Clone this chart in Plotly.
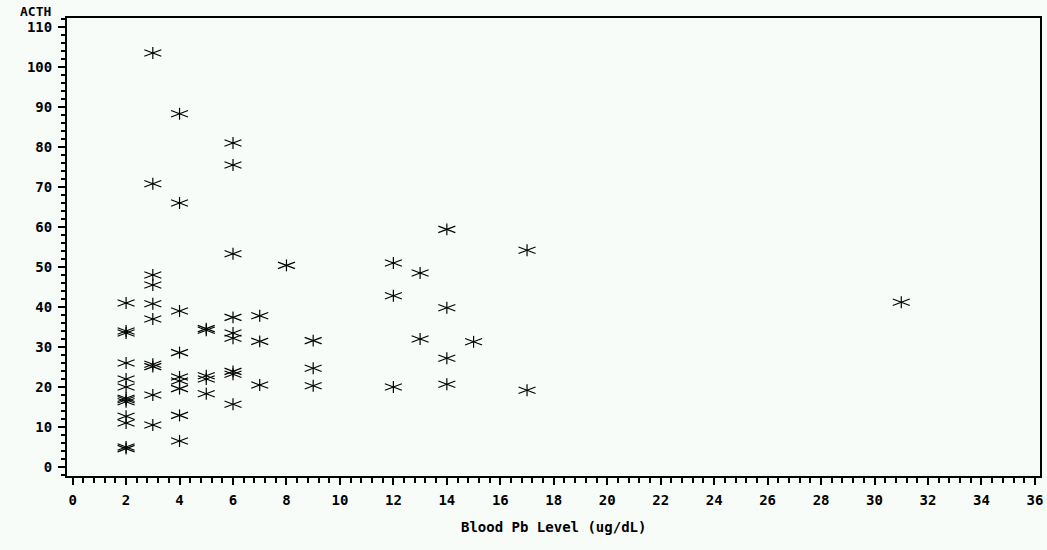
import plotly.graph_objects as go

# Blood Pb level (ug/dL) for each subject
pb = [2, 2, 2, 2, 2, 2, 2, 2, 2, 2, 2, 2, 2,
      3, 3, 3, 3, 3, 3, 3, 3, 3, 3,
      4, 4, 4, 4, 4, 4, 4, 4, 4,
      5, 5, 5, 5, 5,
      6, 6, 6, 6, 6, 6, 6, 6, 6,
      7, 7, 7,
      8,
      9, 9, 9,
      12, 12, 12,
      13, 13,
      14, 14, 14, 14,
      15,
      17, 17,
      31]
# ACTH for each subject
acth = [41, 34, 33.5, 26, 22, 20, 17.2, 16.8, 16.3, 12.7, 11, 5, 4.6,
        103.5, 70.8, 48, 45.5, 40.8, 37, 25.7, 25.1, 18, 10.5,
        88.3, 66, 39, 28.6, 22.5, 21.5, 19.6, 12.9, 6.5,
        34.6, 34.2, 22.8, 22, 18.3,
        81, 75.5, 53.3, 37.4, 33.5, 32.2, 23.9, 23.2, 15.7,
        37.8, 31.4, 20.5,
        50.4,
        31.6, 24.7, 20.3,
        51, 42.8, 20,
        48.5, 32,
        59.4, 39.8, 27.2, 20.7,
        31.3,
        54.2, 19.2,
        41.2]

x_ticks = list(range(0, 37, 2))
y_ticks = list(range(0, 111, 10))
x_title = "Blood Pb Level (ug/dL)"
y_title = "ACTH"

BG = "#f8fcf8"
FONT = dict(family="DejaVu Sans Mono", size=14, color="black", weight="bold")
FONT_SMALL = dict(family="DejaVu Sans Mono", size=13, color="black", weight="bold")

fig = go.Figure()
# star marker built from a vertical stroke and two shallow diagonal strokes
for sym, ang, size in [("line-ns-open", 0, 8.5), ("line-ew-open", 21, 13), ("line-ew-open", -21, 13)]:
    fig.add_trace(go.Scatter(
        x=pb, y=acth, mode="markers", showlegend=False, hoverinfo="x+y",
        marker=dict(symbol=sym, angle=ang, size=size, color="black",
                    line=dict(color="black", width=1.2)),
    ))

axis_common = dict(
    showgrid=False, zeroline=False, showline=True, linecolor="black", linewidth=2,
    mirror=True, ticks="outside", tickcolor="black", tickwidth=2, ticklen=7,
    tickfont=FONT,
)
fig.update_xaxes(range=[-0.21, 36.19], tickvals=x_ticks, ticktext=[str(v) for v in x_ticks],
                 minor=dict(dtick=0.4, tick0=0, ticks="outside", ticklen=5, tickwidth=1.5, tickcolor="black"),
                 ticklabelstandoff=3, **axis_common)
fig.update_yaxes(range=[-2.25, 112.25], tickvals=y_ticks, ticktext=[str(v) for v in y_ticks],
                 minor=dict(dtick=2, tick0=0, ticks="outside", ticklen=4, tickwidth=1.5, tickcolor="black"),
                 ticklabelstandoff=3, **axis_common)

fig.add_annotation(text=x_title, xref="paper", yref="paper", x=0.5, y=0, xanchor="center",
                   yanchor="middle", yshift=-51, showarrow=False, font=FONT)
fig.add_annotation(text=y_title, xref="paper", yref="paper", x=0, y=1, xanchor="right",
                   yanchor="middle", xshift=-14, yshift=7, showarrow=False, font=FONT_SMALL)

fig.update_layout(
    width=1047, height=550, autosize=False,
    margin=dict(l=67, r=7, t=18, b=74, autoexpand=False),
    paper_bgcolor=BG, plot_bgcolor=BG,
    font=FONT,
)

fig.write_html("out.html")
